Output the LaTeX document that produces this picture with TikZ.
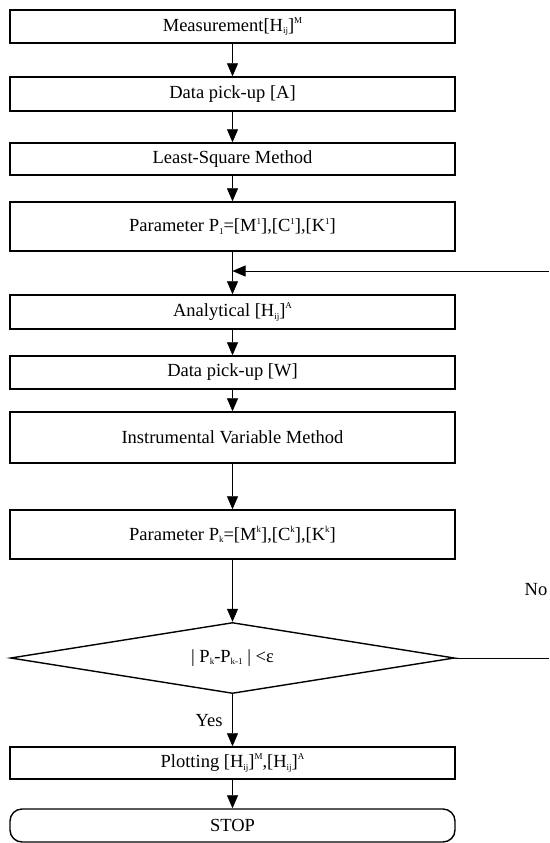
\documentclass[tikz,border=0pt]{standalone}
\usepackage{fontspec}
\setmainfont{Liberation Serif}
\usetikzlibrary{shapes.geometric,arrows.meta}
\newcommand{\mysb}[1]{\raisebox{-0.3ex}{\fontsize{9}{9}\selectfont #1}}
\newcommand{\mysp}[1]{\raisebox{0.9ex}{\fontsize{9}{9}\selectfont #1}}
\begin{document}
\begin{tikzpicture}[x=1pt,y=-1pt,
  box/.style={draw,line width=1.4pt,minimum width=445pt,inner sep=0pt,font=\fontsize{18.5}{21}\selectfont},
  arr/.style={line width=0.7pt,-{Triangle[length=13pt,width=11pt]}},
  plain/.style={line width=0.7pt},
  lbl/.style={font=\fontsize{18.5}{21}\selectfont,inner sep=0pt}]
\useasboundingbox (0,0) rectangle (549,843);
\node[box,minimum height=33pt] (b1) at (232.5,26.5) {Measurement[H\mysb{ij}]\mysp{M}};
\node[box,minimum height=34pt] (b2) at (232.5,94) {Data pick-up [A]};
\node[box,minimum height=32pt] (b3) at (232.5,159) {Least-Square Method};
\node[box,minimum height=49pt] (b4) at (232.5,226.5) {Parameter P\mysb{1}=[M\mysp{1}],[C\mysp{1}],[K\mysp{1}]};
\node[box,minimum height=34pt] (b5) at (232.5,312) {Analytical [H\mysb{ij}]\mysp{A}};
\node[box,minimum height=33pt] (b6) at (232.5,372.5) {Data pick-up [W]};
\node[box,minimum height=51pt] (b7) at (232.5,437.5) {Instrumental Variable Method};
\node[box,minimum height=49pt] (b8) at (232.5,534.5) {Parameter P\mysb{k}=[M\mysp{k}],[C\mysp{k}],[K\mysp{k}]};
\node[draw,diamond,line width=1.4pt,inner sep=0pt,minimum width=444pt,minimum height=71pt,aspect=6.25,font=\fontsize{18.5}{21}\selectfont] (d) at (232.5,658) {| P\mysb{k}-P\mysb{k-1} | <ε};
\node[box,minimum height=32pt] (b9) at (232.5,763) {Plotting [H\mysb{ij}]\mysp{M},[H\mysb{ij}]\mysp{A}};
\node[box,minimum height=33pt,rounded corners=12pt] (b10) at (232.5,825.5) {STOP};
\node[lbl] (yes) at (209,721) {Yes};
\node[lbl] (no) at (536,590) {No};
\coordinate (fbR) at (549,271);
\coordinate (fbL) at (232.5,271);
\coordinate (noR) at (549,658);
\draw[arr] (b1) -- (b2);
\draw[arr] (b2) -- (b3);
\draw[arr] (b3) -- (b4);
\draw[arr] (b4) -- (b5);
\draw[arr] (fbR) -- (fbL);
\draw[arr] (b5) -- (b6);
\draw[arr] (b6) -- (b7);
\draw[arr] (b7) -- (b8);
\draw[arr] (b8) -- (d);
\draw[arr] (d) -- (b9);
\draw[arr] (b9) -- (b10);
\draw[plain] (d.east) -- (noR);
\end{tikzpicture}
\end{document}
